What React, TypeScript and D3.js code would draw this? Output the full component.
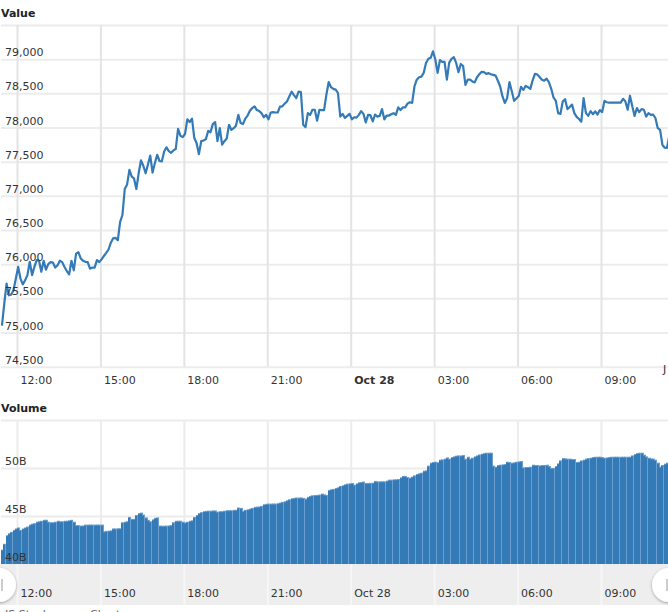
import * as d3 from 'd3';
import { useEffect, useRef } from 'react';

// 5 minute samples
const prices = [
  75100, 75420, 75715, 75545, 75555, 75620, 75790, 75960, 75790, 75705,
  75765, 75840, 76035, 75840, 75960, 76060, 76050, 75890, 76050, 75920,
  76000, 76030, 76025, 75950, 75985, 76050, 76030, 75960, 75900, 75850,
  76050, 75910, 76155, 76175, 76085, 76050, 76035, 76030, 75935, 75950,
  75950, 76060, 76030, 76070, 76120, 76165, 76215, 76315, 76380, 76385,
  76350, 76620, 76720, 77100, 77165, 77380, 77280, 77255, 77100, 77330,
  77520, 77440, 77330, 77460, 77590, 77340, 77480, 77600, 77510, 77505,
  77650, 77710, 77655, 77630, 77665, 77685, 77980, 77880, 77860, 77905,
  78120, 78080, 78130, 77850, 77770, 77610, 77800, 77810, 77830, 77950,
  77930, 78050, 78080, 77800, 77990, 77750, 77800, 77840, 78040, 77965,
  77990, 78025, 78185, 78065, 78050, 78130, 78175, 78245, 78285, 78310,
  78255, 78240, 78210, 78150, 78185, 78120, 78220, 78225, 78220, 78220,
  78305, 78310, 78350, 78380, 78455, 78525, 78475, 78430, 78525, 78520,
  78040, 78005, 78210, 78185, 78260, 78260, 78100, 78260, 78255, 78255,
  78480, 78665, 78590, 78565, 78555, 78505, 78160, 78200, 78140, 78170,
  78200, 78120, 78150, 78145, 78185, 78240, 78200, 78075, 78185, 78180,
  78090, 78190, 78160, 78170, 78270, 78120, 78175, 78175, 78195, 78210,
  78185, 78295, 78255, 78295, 78295, 78350, 78370, 78360, 78600, 78700,
  78735, 78745, 78800, 78945, 79005, 79020, 79115, 78995, 78800, 78985,
  78960, 78960, 78700, 78950, 79005, 79030, 78945, 78810, 78930, 78900,
  78625, 78700, 78700, 78675, 78660, 78735, 78780, 78815, 78810, 78785,
  78795, 78780, 78770, 78760, 78685, 78600, 78455, 78360, 78430, 78665,
  78530, 78390, 78425, 78460, 78595, 78550, 78610, 78590, 78565, 78690,
  78785, 78775, 78740, 78700, 78685, 78715, 78665, 78570, 78440, 78390,
  78210, 78200, 78380, 78415, 78270, 78300, 78335, 78210, 78155, 78125,
  78085, 78430, 78210, 78170, 78240, 78195, 78235, 78190, 78255, 78225,
  78390, 78370, 78365, 78365, 78365, 78365, 78365, 78365, 78420, 78385,
  78260, 78465, 78310, 78170, 78285, 78225, 78270, 78260, 78160, 78210,
  78185, 78190, 78135, 77990, 77965, 77745, 77705, 77700, 77890,
];

const volumes = [
  41.4, 42.0, 42.9, 43.1, 43.25, 43.45, 43.6, 43.7, 43.45, 43.6,
  43.7, 43.8, 44.0, 44.1, 44.15, 44.3, 44.35, 44.4, 44.5, 44.5,
  44.3, 44.25, 44.25, 44.3, 44.4, 44.35, 44.35, 44.4, 44.4, 44.45,
  44.5, 44.3, 43.95, 43.95, 43.9, 43.9, 44.0, 44.0, 44.0, 44.0,
  44.0, 44.0, 44.0, 44.0, 43.3, 43.35, 43.37, 43.4, 43.6, 43.6,
  43.62, 43.62, 44.25, 44.3, 44.35, 44.8, 44.6, 44.6, 45.0, 45.2,
  45.25, 45.05, 44.75, 44.5, 44.35, 44.55, 44.7, 44.75, 43.9, 43.88,
  43.88, 43.9, 43.92, 43.95, 44.25, 44.4, 44.4, 44.4, 44.3, 44.22,
  44.3, 44.4, 44.45, 44.8, 45.0, 45.2, 45.3, 45.4, 45.43, 45.45,
  45.45, 45.47, 45.47, 45.35, 45.4, 45.4, 45.45, 45.5, 45.5, 45.5,
  45.54, 45.54, 45.78, 45.74, 45.43, 45.54, 45.6, 45.67, 45.74, 45.85,
  45.87, 45.88, 45.95, 46.12, 46.16, 46.19, 46.19, 46.19, 46.19, 46.24,
  46.3, 46.37, 46.44, 46.54, 46.64, 46.75, 46.78, 46.82, 46.82, 46.82,
  46.78, 46.71, 46.89, 46.99, 47.06, 47.09, 47.09, 47.13, 47.23, 47.16,
  47.09, 47.61, 47.68, 47.72, 47.82, 47.89, 48.03, 48.1, 48.2, 48.27,
  48.3, 48.34, 48.17, 48.3, 48.41, 48.44, 48.48, 48.34, 48.34, 48.35,
  48.37, 48.55, 48.51, 48.51, 48.51, 48.51, 48.58, 48.68, 48.68, 48.72,
  48.72, 48.75, 48.93, 49.07, 49.07, 48.96, 48.89, 49.0, 49.13, 49.27,
  49.34, 49.41, 49.62, 49.65, 50.14, 50.45, 50.52, 50.55, 50.5, 50.76,
  50.8, 50.87, 51.0, 50.87, 51.04, 51.11, 51.18, 51.21, 51.21, 51.25,
  50.87, 51.07, 50.87, 50.97, 51.11, 51.21, 51.31, 51.38, 51.45, 51.49,
  51.49, 51.49, 50.14, 50.03, 50.21, 50.24, 50.28, 50.31, 50.55, 50.52,
  50.45, 50.48, 50.55, 50.59, 50.62, 49.97, 50.0, 50.0, 50.03, 50.24,
  50.21, 50.21, 50.17, 50.21, 50.21, 50.24, 50.1, 49.9, 49.9, 50.1,
  50.38, 50.69, 50.93, 50.9, 50.87, 50.87, 50.83, 50.83, 50.52, 50.55,
  50.69, 50.76, 50.87, 50.93, 50.97, 51.04, 51.07, 51.07, 51.07, 51.04,
  50.97, 51.0, 51.04, 51.07, 51.07, 51.07, 51.07, 51.07, 51.07, 51.07,
  51.07, 51.07, 51.21, 51.35, 51.45, 51.49, 51.49, 51.28, 51.11, 50.97,
  50.9, 50.87, 50.76, 50.45, 50.03, 50.21, 50.35, 50.45, 50.45,
];

const priceTicks = [74500, 75000, 75500, 76000, 76500, 77000, 77500, 78000, 78500, 79000, 79500];
const volumeTicks = [40, 45, 50, 55];

const startTime = Date.UTC(2021, 9, 27, 11, 27, 30);
const stepMs = 5 * 60 * 1000;
const times = prices.map((_, i) => new Date(startTime + i * stepMs));

const font = '"DejaVu Sans", sans-serif';
const blue = '#337ab7';
const gridColor = '#ececec';

export default function App() {
  const svgRef = useRef(null);

  useEffect(() => {
    if (!svgRef.current) return;
    const svg = d3.select(svgRef.current);
    svg.selectAll('*').remove();

    const width = 668;
    const main = { top: 25, bottom: 366.7 };
    const vol = { top: 420, bottom: 564, navBottom: 605 };

    const x = d3
      .scaleUtc()
      .domain([new Date(Date.UTC(2021, 9, 27, 12)), new Date(Date.UTC(2021, 9, 28, 9))])
      .range([17, 601]);
    const y = d3.scaleLinear().domain([74500, 79500]).range([main.bottom, main.top]);
    const yVol = d3.scaleLinear().domain([40, 55]).range([vol.bottom, vol.top]);

    const isMidnight = (d: Date) => d.getUTCHours() === 0;
    const timeLabel = (d: any) =>
      isMidnight(d) ? d3.utcFormat('%b %d')(d) : d3.utcFormat('%H:%M')(d);

    const shadow = svg
      .append('defs')
      .append('filter')
      .attr('id', 'handle-shadow')
      .attr('x', '-30%')
      .attr('y', '-30%')
      .attr('width', '160%')
      .attr('height', '160%');
    shadow
      .append('feDropShadow')
      .attr('dx', 0)
      .attr('dy', 1)
      .attr('stdDeviation', 1.5)
      .attr('flood-color', '#000')
      .attr('flood-opacity', 0.35);

    // navigator band behind the lower time labels
    svg
      .append('rect')
      .attr('x', 0)
      .attr('y', vol.bottom)
      .attr('width', width)
      .attr('height', vol.navBottom - vol.bottom)
      .attr('fill', '#eeeeee');

    const styleGrid = (g: any, color: string) => {
      g.select('.domain').remove();
      g.selectAll('.tick line').attr('stroke', color).attr('stroke-width', 2);
      g.selectAll('text').attr('font-family', font).attr('font-size', 11).attr('fill', '#333');
    };

    // horizontal grid, the labels get their own axes further down
    const volumeGrid = svg
      .append('g')
      .attr('transform', 'translate(1,0)')
      .call(d3.axisRight(yVol).tickValues(volumeTicks).tickSize(width).tickFormat(() => ''));
    styleGrid(volumeGrid, gridColor);

    const priceGrid = svg
      .append('g')
      .attr('transform', 'translate(1,0)')
      .call(d3.axisRight(y).tickValues(priceTicks).tickSize(width).tickFormat(() => ''));
    styleGrid(priceGrid, gridColor);

    // vertical grid and time labels
    const timeAxis = svg
      .append('g')
      .attr('transform', `translate(0,${main.bottom})`)
      .call(
        d3
          .axisBottom(x)
          .ticks(d3.utcHour.every(3) as any)
          .tickSize(-(main.bottom - main.top))
          .tickFormat(timeLabel)
      );
    styleGrid(timeAxis, '#e4e4e4');

    const volGrid = svg
      .append('g')
      .attr('transform', `translate(0,${vol.bottom})`)
      .call(
        d3
          .axisBottom(x)
          .ticks(d3.utcHour.every(3) as any)
          .tickSize(-(vol.bottom - vol.top))
          .tickFormat(() => '')
      );
    styleGrid(volGrid, gridColor);

    const navAxis = svg
      .append('g')
      .attr('transform', `translate(0,${vol.bottom})`)
      .call(
        d3
          .axisBottom(x)
          .ticks(d3.utcHour.every(3) as any)
          .tickSize(vol.navBottom - vol.bottom)
          .tickFormat(timeLabel)
      );
    styleGrid(navAxis, '#f6f6f6');

    // tick labels sit right of the vertical lines
    timeAxis
      .selectAll('.tick text')
      .attr('text-anchor', 'start')
      .attr('x', 3)
      .attr('y', 17)
      .attr('dy', 0)
      .attr('font-weight', (d: any) => (isMidnight(d) ? 'bold' : 'normal'));
    navAxis
      .selectAll('.tick text')
      .attr('text-anchor', 'start')
      .attr('x', 3)
      .attr('y', 33)
      .attr('dy', 0);

    // bars: a lighter copy underneath gives the pale top edge and seams
    const barGroup = svg.append('g');
    const barLeft = (i: number) => Math.round(x(times[i]) - 1);
    barGroup
      .selectAll('rect.edge')
      .data(volumes)
      .join('rect')
      .attr('class', 'edge')
      .attr('x', (_, i) => barLeft(i))
      .attr('y', (d) => yVol(d) - 1)
      .attr('width', 3)
      .attr('height', (d) => yVol(40) - yVol(d) + 1)
      .attr('fill', '#6c9fcf');
    barGroup
      .selectAll('rect.bar')
      .data(volumes)
      .join('rect')
      .attr('class', 'bar')
      .attr('x', (_, i) => barLeft(i))
      .attr('y', (d) => yVol(d))
      .attr('width', 2)
      .attr('height', (d) => yVol(40) - yVol(d))
      .attr('fill', blue);

    const line = d3
      .line<number>()
      .x((_, i) => x(times[i]))
      .y((d) => y(d));
    svg
      .append('path')
      .datum(prices)
      .attr('d', line)
      .attr('fill', 'none')
      .attr('stroke', blue)
      .attr('stroke-width', 2.2)
      .attr('stroke-linejoin', 'round');

    // value labels go over the grid, the line and the bars
    const priceAxis = svg
      .append('g')
      .attr('transform', 'translate(1,0)')
      .call(
        d3
          .axisRight(y)
          .tickValues(priceTicks)
          .tickSize(0)
          .tickFormat((d: any) => (d === 79500 ? '' : d3.format(',')(d)))
      );
    styleGrid(priceAxis, 'none');

    const volumeAxis = svg
      .append('g')
      .attr('transform', 'translate(1,0)')
      .call(
        d3
          .axisRight(yVol)
          .tickValues(volumeTicks)
          .tickSize(0)
          .tickFormat((d: any) => (d === 55 ? '' : `${d}B`))
      );
    styleGrid(volumeAxis, 'none');

    [priceAxis, volumeAxis].forEach((g) =>
      g
        .selectAll('.tick text')
        .attr('text-anchor', 'start')
        .attr('x', 4)
        .attr('y', -3.5)
        .attr('dy', 0)
    );

    const addText = (label: string, tx: number, ty: number, bold = false, color = '#333') =>
      svg
        .append('text')
        .attr('x', tx)
        .attr('y', ty)
        .attr('font-family', font)
        .attr('font-size', 11)
        .attr('font-weight', bold ? 'bold' : 'normal')
        .attr('fill', color)
        .text(label);

    addText('Value', 1, 17, true, '#222');
    addText('Volume', 1, 412, true, '#222');
    addText('J', 663, 373);
    addText('JS Stock', 5, 618, false, '#666');
    addText('Chart', 90, 618, false, '#666');

    // scrollbar handles
    [-1, 669].forEach((cx) => {
      svg
        .append('circle')
        .attr('cx', cx)
        .attr('cy', 585)
        .attr('r', 17)
        .attr('fill', '#fff')
        .attr('filter', 'url(#handle-shadow)');
      svg
        .append('rect')
        .attr('x', cx < 0 ? 1 : 666)
        .attr('y', 579)
        .attr('width', 2)
        .attr('height', 12)
        .attr('fill', '#ccc');
    });
  }, []);

  return (
    <svg
      ref={svgRef}
      width={668}
      height={612}
      style={{ position: 'absolute', left: 0, top: 0 }}
    />
  );
}
